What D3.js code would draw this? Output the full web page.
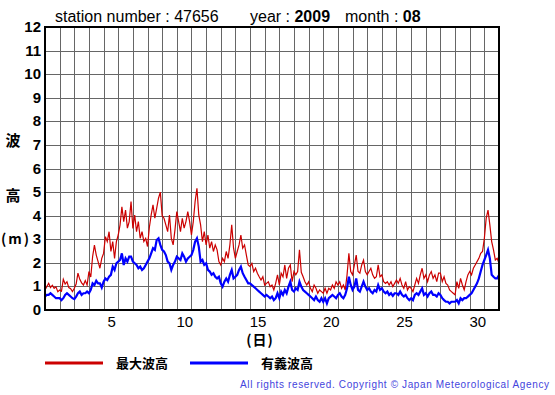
<!DOCTYPE html>
<html lang="ja">
<head>
<meta charset="UTF-8">
<title>wave height 47656 2009-08</title>
<script src="https://cdn.jsdelivr.net/npm/d3@7"></script>
<style>
body { margin: 0; background: #fff; }
svg text { font-family: "Liberation Sans", Arial, Helvetica, sans-serif; }
.jp { font-family: "Noto Sans CJK JP", sans-serif; font-weight: bold; }
</style>
</head>
<body>
<div id="chart"></div>
<script>

// header info
var station = "47656";
var year = "2009";
var month = "08";

// one value every 3 hours, from day 0 (Aug 1 00h) to day 31
var stepHours = 3;

// max wave height (m)
var maxWave = [
  0.85, 1.00, 1.13, 0.95, 1.05, 0.92, 0.98, 0.78,
  0.85, 0.80, 1.30, 1.10, 1.20, 0.95, 0.90, 0.78,
  0.92, 1.10, 1.56, 1.30, 1.15, 1.06, 1.25, 1.06,
  1.63, 1.40, 2.26, 2.75, 2.33, 2.05, 1.77, 2.19,
  2.40, 3.11, 2.90, 3.32, 2.48, 2.90, 2.19, 2.90,
  3.18, 3.61, 4.38, 3.75, 4.24, 3.47, 3.75, 4.60,
  3.46, 4.03, 3.32, 3.75, 3.04, 3.32, 2.90, 3.04,
  2.69, 3.50, 4.03, 4.46, 3.89, 4.31, 4.74, 5.00,
  4.00, 3.89, 3.61, 3.32, 4.03, 3.04, 2.76, 3.40,
  4.17, 3.75, 3.32, 3.89, 3.47, 3.75, 4.17, 3.75,
  3.18, 3.75, 4.60, 5.16, 4.03, 3.61, 2.90, 3.32,
  2.76, 3.18, 2.62, 2.90, 2.48, 2.76, 2.55, 2.05,
  1.91, 2.19, 2.05, 2.48, 2.19, 2.76, 3.61, 2.62,
  2.19, 2.48, 2.76, 3.18, 2.62, 2.76, 2.33, 1.91,
  1.84, 1.98, 1.63, 1.77, 1.56, 1.41, 1.27, 1.41,
  1.06, 1.13, 1.20, 0.99, 1.06, 0.85, 1.13, 1.49,
  1.06, 1.56, 1.41, 1.91, 1.34, 1.77, 1.91, 1.20,
  1.63, 1.49, 1.63, 2.55, 1.60, 1.41, 1.20, 1.06,
  1.20, 0.92, 0.78, 1.06, 0.92, 0.71, 0.85, 0.78,
  0.71, 0.92, 0.71, 0.92, 0.85, 1.06, 0.92, 1.20,
  1.06, 1.20, 0.92, 1.06, 0.85, 1.49, 2.40, 1.63,
  1.49, 1.91, 2.33, 1.63, 1.56, 1.91, 2.12, 1.63,
  1.49, 1.63, 1.77, 1.49, 1.34, 1.41, 1.91, 1.41,
  1.49, 1.20, 1.13, 1.20, 1.06, 1.20, 0.99, 1.13,
  1.27, 1.13, 1.34, 1.06, 0.92, 1.20, 0.85, 0.99,
  0.92, 0.78, 1.06, 1.34, 1.13, 1.49, 1.77, 1.34,
  1.49, 1.20, 1.49, 1.63, 1.34, 1.49, 1.20, 1.56,
  1.56, 1.20, 1.41, 1.13, 1.06, 0.85, 0.78, 0.71,
  0.64, 1.20, 0.92, 1.34, 1.06, 0.85, 1.20, 1.49,
  1.63, 1.49, 1.77, 1.91, 2.05, 2.19, 2.40, 2.48,
  3.04, 3.89, 4.24, 3.61, 2.90, 2.55, 2.12, 2.19,
  1.98
];

// significant wave height (m)
var sigWave = [
  0.57, 0.64, 0.64, 0.71, 0.64, 0.57, 0.50, 0.50,
  0.50, 0.42, 0.50, 0.64, 0.71, 0.64, 0.57, 0.50,
  0.46, 0.57, 0.71, 0.78, 0.64, 0.71, 0.71, 0.78,
  0.71, 0.85, 1.13, 1.06, 1.24, 1.13, 1.13, 0.95,
  1.20, 1.34, 1.27, 1.41, 1.49, 1.84, 1.70, 1.98,
  2.05, 2.12, 2.40, 1.91, 2.19, 2.05, 2.26, 2.26,
  2.05, 1.98, 1.91, 1.77, 1.84, 1.70, 1.77, 1.91,
  2.05, 2.19, 2.40, 2.62, 2.55, 2.97, 3.04, 2.76,
  2.55, 2.48, 2.33, 2.05, 1.98, 1.70, 1.91, 2.05,
  2.26, 2.19, 2.12, 2.40, 2.26, 2.05, 2.19, 2.26,
  2.33, 2.55, 2.90, 3.04, 2.69, 2.05, 2.12, 1.91,
  1.98, 1.70, 1.63, 1.49, 1.56, 1.41, 1.34, 1.41,
  1.13, 0.99, 1.20, 1.34, 1.20, 1.49, 1.70, 1.34,
  1.41, 1.49, 1.70, 1.84, 1.56, 1.41, 1.27, 1.13,
  1.13, 1.06, 0.99, 0.92, 0.85, 0.78, 0.71, 0.64,
  0.57, 0.64, 0.57, 0.50, 0.57, 0.42, 0.50, 0.71,
  0.50, 0.78, 0.64, 0.85, 0.71, 0.99, 1.20, 0.85,
  0.78, 0.92, 0.85, 1.20, 0.99, 0.85, 0.78, 0.71,
  0.64, 0.57, 0.50, 0.42, 0.57, 0.42, 0.35, 0.50,
  0.35, 0.50, 0.28, 0.50, 0.57, 0.64, 0.57, 0.50,
  0.64, 0.71, 0.57, 0.50, 0.64, 0.92, 1.41, 1.06,
  0.85, 0.99, 1.34, 0.85, 0.78, 0.99, 1.20, 0.99,
  0.85, 0.92, 0.78, 0.71, 0.85, 0.78, 1.06, 0.85,
  0.92, 0.78, 0.71, 0.78, 0.64, 0.71, 0.60, 0.71,
  0.71, 0.64, 0.78, 0.64, 0.57, 0.64, 0.50, 0.42,
  0.50, 0.42, 0.64, 0.71, 0.64, 0.78, 0.92, 0.64,
  0.71, 0.57, 0.71, 0.78, 0.64, 0.64, 0.57, 0.71,
  0.64, 0.50, 0.42, 0.35, 0.35, 0.28, 0.35, 0.35,
  0.35, 0.42, 0.28, 0.50, 0.42, 0.50, 0.50, 0.57,
  0.64, 0.71, 0.85, 0.99, 1.13, 1.34, 1.63, 1.91,
  2.12, 2.33, 2.55, 2.19, 1.49, 1.41, 1.34, 1.34,
  1.48
];

// axis ticks
var dayTicks = [5, 10, 15, 20, 25, 30];
var heightTicks = [0, 1, 2, 3, 4, 5, 6, 7, 8, 9, 10, 11, 12];

// legend
var seriesNames = ["最大波高", "有義波高"];
var seriesColors = ["#cc0000", "#0000ff"];

var w = 555, h = 395;
var pLeft = 45, pRight = 499, pTop = 27, pBottom = 310;

var svg = d3.select("#chart").append("svg")
  .attr("width", w)
  .attr("height", h);

var x = d3.scaleLinear().domain([0, 31]).range([pLeft, pRight]);
var y = d3.scaleLinear().domain([0, 12]).range([pBottom, pTop]);

// grid: one column a day, one row a metre
svg.append("g")
  .selectAll("line")
  .data(d3.range(1, 31))
  .enter().append("line")
  .attr("x1", function(d) { return Math.round(x(d)) + 0.5; })
  .attr("x2", function(d) { return Math.round(x(d)) + 0.5; })
  .attr("y1", pTop).attr("y2", pBottom)
  .attr("stroke", "#666").attr("stroke-width", 1);

svg.append("g")
  .selectAll("line")
  .data(heightTicks.slice(1, -1))
  .enter().append("line")
  .attr("x1", pLeft).attr("x2", pRight)
  .attr("y1", function(d) { return Math.round(y(d)) + 0.5; })
  .attr("y2", function(d) { return Math.round(y(d)) + 0.5; })
  .attr("stroke", "#666").attr("stroke-width", 1);

// the two series
var line = d3.line()
  .x(function(d, i) { return x(i * stepHours / 24); })
  .y(function(d) { return y(d); });

svg.append("path")
  .datum(maxWave)
  .attr("d", line)
  .attr("fill", "none")
  .attr("stroke", seriesColors[0])
  .attr("stroke-width", 1.2);

svg.append("path")
  .datum(sigWave)
  .attr("d", line)
  .attr("fill", "none")
  .attr("stroke", seriesColors[1])
  .attr("stroke-width", 2.2);

// frame
svg.append("rect")
  .attr("x", pLeft).attr("y", pTop)
  .attr("width", pRight - pLeft).attr("height", pBottom - pTop)
  .attr("fill", "none")
  .attr("stroke", "#000")
  .attr("stroke-width", 2);

// y tick labels
svg.append("g")
  .selectAll("text")
  .data(heightTicks)
  .enter().append("text")
  .attr("x", 41)
  .attr("y", function(d) { return y(d) + 5; })
  .attr("text-anchor", "end")
  .attr("font-size", 15)
  .attr("font-weight", "bold")
  .text(function(d) { return d; });

// x tick labels, centred in the day column
svg.append("g")
  .selectAll("text")
  .data(dayTicks)
  .enter().append("text")
  .attr("x", function(d) { return x(d - 0.45); })
  .attr("y", 327)
  .attr("text-anchor", "middle")
  .attr("font-size", 15)
  .text(function(d) { return d; });

// header
var head = svg.append("g").attr("font-size", 16);
head.append("text").attr("x", 55).attr("y", 22).text("station number : " + station);
var yt = head.append("text").attr("x", 250).attr("y", 22);
yt.append("tspan").text("year : ");
yt.append("tspan").attr("font-weight", "bold").text(year);
var mt = head.append("text").attr("x", 345).attr("y", 22);
mt.append("tspan").text("month : ");
mt.append("tspan").attr("font-weight", "bold").text(month);

// axis titles
svg.append("text").attr("class", "jp").attr("x", 13).attr("y", 146)
  .attr("text-anchor", "middle").attr("font-size", 15).text("波");
svg.append("text").attr("class", "jp").attr("x", 13).attr("y", 201)
  .attr("text-anchor", "middle").attr("font-size", 15).text("高");
svg.append("text").attr("class", "jp").attr("x", 1).attr("y", 244)
  .attr("font-size", 14).attr("letter-spacing", 2).text("(m)");
svg.append("text").attr("class", "jp").attr("x", 260).attr("y", 345)
  .attr("text-anchor", "middle").attr("font-size", 14).attr("letter-spacing", 1).text("(日)");

// legend
var legend = svg.append("g")
  .selectAll("g")
  .data(seriesNames)
  .enter().append("g")
  .attr("transform", function(d, i) { return "translate(" + (45 + i * 145) + ",363)"; });

legend.append("line")
  .attr("x1", 0).attr("x2", 58)
  .attr("stroke", function(d, i) { return seriesColors[i]; })
  .attr("stroke-width", 3);

legend.append("text")
  .attr("class", "jp")
  .attr("x", 71).attr("y", 5)
  .attr("font-size", 13)
  .text(function(d) { return d; });

// copyright
svg.append("text")
  .attr("x", 240).attr("y", 388)
  .attr("font-size", 10)
  .attr("fill", "#4444dd")
  .attr("textLength", 309)
  .attr("lengthAdjust", "spacing")
  .text("All rights reserved. Copyright © Japan Meteorological Agency");

</script>
</body>
</html>
